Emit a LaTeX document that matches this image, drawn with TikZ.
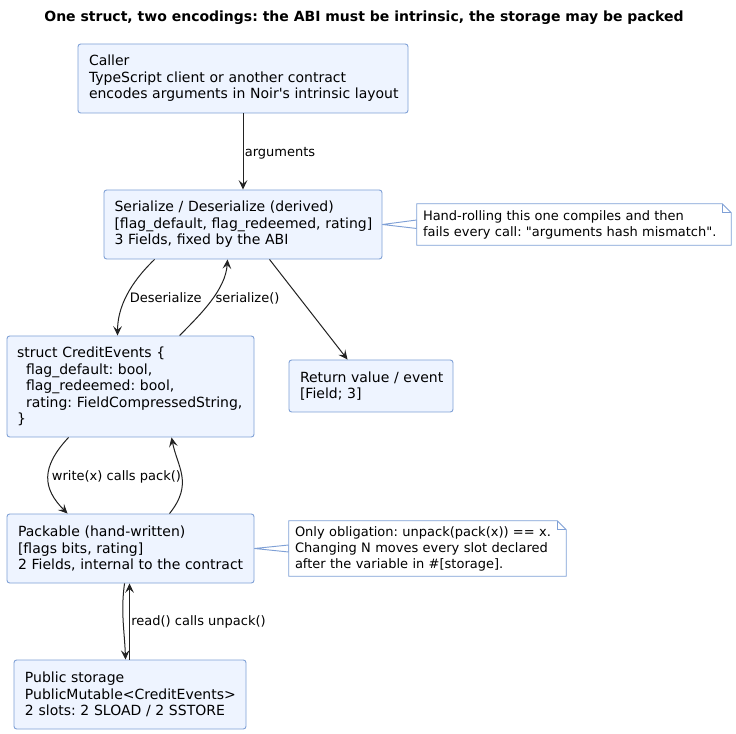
\documentclass[tikz,border=0pt]{standalone}
\usepackage{fontspec}
\newfontfamily\df{DejaVu Sans}
\usetikzlibrary{arrows.meta,calc,backgrounds}
\definecolor{boxfill}{HTML}{EEF4FF}
\definecolor{bd}{HTML}{7FA0D6}
\definecolor{ln}{HTML}{222222}
\newcommand\LL[1]{\mbox{#1}}
\frenchspacing
\tikzset{
  box/.style={draw=bd, fill=boxfill, rounded corners=2pt, line width=0.7pt,
    font=\df\frenchspacing\fontsize{10.5pt}{12.4pt}\selectfont, align=left, inner ysep=0pt},
  notebox/.style={font=\df\frenchspacing\fontsize{9.75pt}{12pt}\selectfont, align=left, inner ysep=0pt, inner xsep=4.5pt},
  notebd/.style={draw=bd, fill=white, line width=0.7pt},
  edge/.style={draw=ln, line width=0.75pt, -{Stealth[length=7pt,width=6.5pt,inset=2.8pt]}},
  elabel/.style={font=\df\frenchspacing\fontsize{9.75pt}{12pt}\selectfont, inner sep=1pt}
}
\begin{document}
\begin{tikzpicture}[x=0.75pt,y=-0.75pt]
\useasboundingbox (0,0) rectangle (736,734);

\node[font=\df\bfseries\frenchspacing\fontsize{10.5pt}{12pt}\selectfont] (title) at (364,18)
  {One struct, two encodings: the ABI must be intrinsic, the storage may be packed};

\node[box, inner xsep=8.25pt, text width=231pt, minimum height=51.75pt] (caller) at (243,78.5)
  {\LL{Caller}\\\LL{TypeScript client or another contract}\\\LL{encodes arguments in Noir\textquotesingle s intrinsic layout}};

\node[box, inner xsep=7.875pt, text width=192.75pt, minimum height=51.75pt] (ser) at (243,224.5)
  {\LL{Serialize / Deserialize (derived)}\\\LL{[flag\_default, flag\_redeemed, rating]}\\\LL{3 Fields, fixed by the ABI}};

\node[box, inner xsep=7.5pt, text width=170.25pt, minimum height=75.75pt] (struct) at (130.5,386.5)
  {\LL{struct CreditEvents \{}\\\LL{\hspace*{6.75pt}flag\_default: bool,}\\\LL{\hspace*{6.75pt}flag\_redeemed: bool,}\\\LL{\hspace*{6.75pt}rating: FieldCompressedString,}\\\LL{\}}};

\node[box, inner xsep=8.25pt, text width=106.5pt, minimum height=39pt] (ret) at (371,386)
  {\LL{Return value / event}\\\LL{[Field; 3]}};

\node[box, inner xsep=8.25pt, text width=168.75pt, minimum height=51.75pt] (pack) at (130.5,548.5)
  {\LL{Packable (hand-written)}\\\LL{[flags bits, rating]}\\\LL{2 Fields, internal to the contract}};

\node[box, inner xsep=8.25pt, text width=157.5pt, minimum height=51.75pt] (store) at (130,694.5)
  {\LL{Public storage}\\\LL{PublicMutable\textless CreditEvents\textgreater}\\\LL{2 slots: 2 SLOAD / 2 SSTORE}};

% notes
\node[notebox, text width=226.5pt, minimum height=30.75pt] (n1) at (574,224.5)
  {\LL{Hand-rolling this one compiles and then}\\\LL{fails every call: \textquotedbl arguments hash mismatch\textquotedbl.}};
\node[notebox, text width=198.75pt, minimum height=41.25pt] (n2) at (427.5,548.5)
  {\LL{Only obligation: unpack(pack(x)) == x.}\\\LL{Changing N moves every slot declared}\\\LL{after the variable in \#[storage].}};

\begin{scope}[on background layer]
\fill[white] (0,0) rectangle (736,734);
\filldraw[notebd] (ser.east) -- ($(n1.west)+(0,-4.5)$) -- ($(n1.west)+(0,4)$) -- cycle;
\filldraw[notebd] (n1.north west) -- ($(n1.north east)+(-9,0)$) -- ($(n1.north east)+(0,9)$) -- (n1.south east) -- (n1.south west) -- cycle;
\draw[notebd, fill=none] ($(n1.north east)+(-9,0)$) -- ($(n1.north east)+(-9,9)$) -- ($(n1.north east)+(0,9)$);
\filldraw[notebd] (pack.east) -- ($(n2.west)+(0,-3.5)$) -- ($(n2.west)+(0,3.5)$) -- cycle;
\filldraw[notebd] (n2.north west) -- ($(n2.north east)+(-9,0)$) -- ($(n2.north east)+(0,9)$) -- (n2.south east) -- (n2.south west) -- cycle;
\draw[notebd, fill=none] ($(n2.north east)+(-9,0)$) -- ($(n2.north east)+(-9,9)$) -- ($(n2.north east)+(0,9)$);
\end{scope}

% edges
\draw[edge] (caller.south) -- node[elabel, midway, right, yshift=-1.5pt] {arguments} (ser.north);

\draw[edge] ($(ser.south west)+(51,0)$) .. controls +(-25,24) and +(0,-28) ..
  node[elabel, pos=0.5, right, xshift=1pt, yshift=-1.5pt] {Deserialize} ($(struct.north west)+(111,0)$);
\draw[edge] ($(struct.north west)+(173,0)$) .. controls +(22,-22) and +(-2,30) ..
  node[elabel, pos=0.5, right, xshift=2pt, yshift=1.5pt] {serialize()} ($(ser.south west)+(124,0)$);
\draw[edge] ($(ser.south west)+(166,0)$) -- ($(ret.north west)+(59,0)$);

\draw[edge] ($(struct.south west)+(62,0)$) .. controls +(-28,30) and +(-25,-25) ..
  node[elabel, pos=0.5, right, xshift=1.5pt] {write(x) calls pack()} ($(pack.north west)+(61,0)$);
\draw[edge] ($(pack.north west)+(163,0)$) .. controls +(24,-30) and +(6,30) ..
  ($(struct.south west)+(165,0)$);

\draw[edge] ($(pack.south west)+(118,0)$) .. controls +(-4,28) and +(-1,-28) .. ($(store.north west)+(112,0)$);
\draw[edge] ($(store.north west)+(116,0)$) -- node[elabel, midway, right] {read() calls unpack()} ($(pack.south west)+(123,0)$);
\end{tikzpicture}
\end{document}
